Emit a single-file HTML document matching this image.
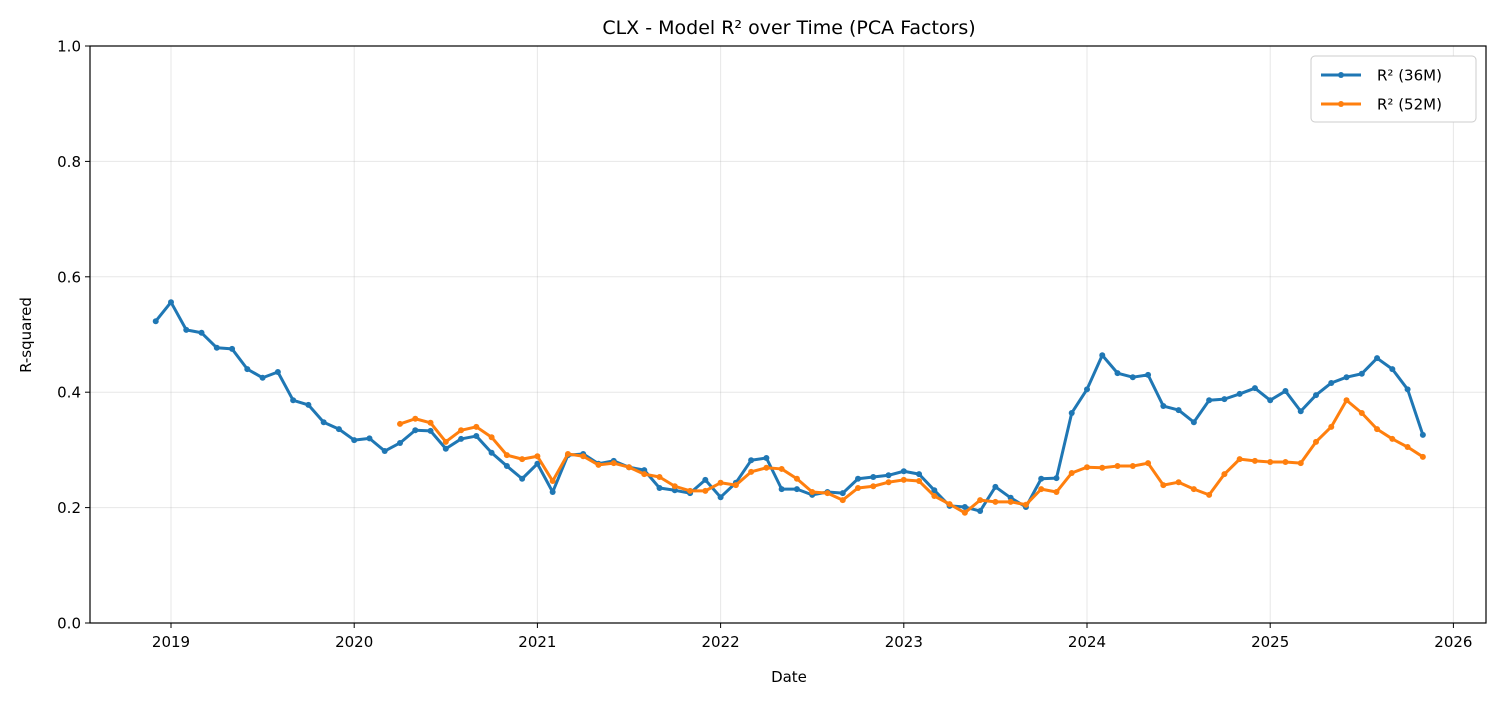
<!DOCTYPE html>
<html><head><meta charset="utf-8"><style>
body{margin:0;background:#fff;font-family:"Liberation Sans",sans-serif;}
svg text{font-family:"DejaVu Sans","Liberation Sans",sans-serif;fill:#000;}
</style></head><body>
<svg id="chart" width="1501" height="701">
</svg>
<script>
const blueStart = [2018, 12];
const blueValues = [0.523,0.556,0.508,0.503,0.477,0.475,0.44,0.425,0.435,0.386,0.378,0.348,0.336,0.317,0.32,0.298,0.312,0.334,0.333,0.302,0.319,0.324,0.295,0.272,0.25,0.276,0.227,0.291,0.293,0.276,0.281,0.27,0.265,0.234,0.23,0.225,0.248,0.218,0.243,0.282,0.286,0.232,0.232,0.222,0.227,0.225,0.25,0.253,0.256,0.263,0.258,0.23,0.203,0.201,0.194,0.236,0.217,0.201,0.25,0.251,0.364,0.405,0.464,0.433,0.426,0.43,0.376,0.369,0.348,0.386,0.388,0.397,0.407,0.386,0.402,0.367,0.395,0.416,0.426,0.432,0.459,0.44,0.405,0.326];
const orangeStart = [2020, 4];
const orangeValues = [0.345,0.354,0.347,0.314,0.334,0.34,0.322,0.291,0.284,0.289,0.246,0.293,0.289,0.274,0.277,0.27,0.258,0.253,0.237,0.229,0.229,0.243,0.239,0.262,0.269,0.267,0.25,0.227,0.225,0.213,0.234,0.237,0.244,0.248,0.246,0.22,0.206,0.191,0.213,0.21,0.21,0.205,0.232,0.227,0.26,0.27,0.269,0.272,0.272,0.277,0.239,0.244,0.232,0.222,0.258,0.284,0.281,0.279,0.279,0.277,0.314,0.34,0.386,0.364,0.336,0.319,0.305,0.288];
const xTicks = [2019,2020,2021,2022,2023,2024,2025,2026];
const yTicks = [0.0,0.2,0.4,0.6,0.8,1.0];

const NS="http://www.w3.org/2000/svg";
const svg=document.getElementById('chart');
const L=90,R=1486,T=46,B=623;
const xs=y=>171+(y-2019)*183.2;
const ys=v=>B-(v)*(B-T);
function mk(tag,attrs,parent){const e=document.createElementNS(NS,tag);for(const k in attrs)e.setAttribute(k,attrs[k]);(parent||svg).appendChild(e);return e;}
xTicks.forEach(t=>{const l=mk('line',{x1:xs(t),x2:xs(t),y1:T,y2:B,stroke:'#b0b0b0','stroke-opacity':0.3,'stroke-width':1});
});
yTicks.forEach(t=>{const l=mk('line',{x1:L,x2:R,y1:ys(t),y2:ys(t),stroke:'#b0b0b0','stroke-opacity':0.3,'stroke-width':1});
});
xTicks.forEach(t=>{mk('line',{x1:xs(t),x2:xs(t),y1:B,y2:B+5,stroke:'#000'});
const tx=mk('text',{x:xs(t),y:B+24,'text-anchor':'middle','font-size':15});tx.textContent=t;
});
yTicks.forEach(t=>{mk('line',{x1:L-5,x2:L,y1:ys(t),y2:ys(t),stroke:'#000'});
const tx=mk('text',{x:L-9,y:ys(t)+5.5,'text-anchor':'end','font-size':15});tx.textContent=t.toFixed(1);
});
function series(start,vals,color,name){
  const pts=vals.map((v,i)=>[xs(start[0]+(start[1]-1+i)/12),ys(v)]);
  const p=mk('polyline',{points:pts.map(p=>p.join(',')).join(' '),fill:'none',stroke:color,'stroke-width':3,'stroke-linejoin':'round'});
  
  pts.forEach(q=>{const c=mk('circle',{cx:q[0],cy:q[1],r:3,fill:color});
  });
}
series(blueStart,blueValues,'#1f77b4','r2-36m');
series(orangeStart,orangeValues,'#ff7f0e','r2-52m');
const fr=mk('rect',{x:L,y:T,width:R-L,height:B-T,fill:'none',stroke:'#000','stroke-width':1.2});

let t=mk('text',{x:789,y:34,'text-anchor':'middle','font-size':19});t.textContent='CLX - Model R² over Time (PCA Factors)';

t=mk('text',{x:789,y:682,'text-anchor':'middle','font-size':15});t.textContent='Date';

t=mk('text',{x:31,y:335,'text-anchor':'middle','font-size':15,transform:'rotate(-90 31 335)'});t.textContent='R-squared';

const lg=mk('g',{});

mk('rect',{x:1311,y:56,width:165,height:66,rx:4,fill:'#fff',stroke:'#ccc'},lg);
[['#1f77b4','R² (36M)',75],['#ff7f0e','R² (52M)',104]].forEach(([c,lab,y])=>{
  const g=mk('g',{},lg);
  
  mk('line',{x1:1321,x2:1361,y1:y,y2:y,stroke:c,'stroke-width':3},g);
  mk('circle',{cx:1341,cy:y,r:3,fill:c},g);
  const tx=mk('text',{x:1377,y:y+5.5,'font-size':15},g);tx.textContent=lab;
});
</script>
</body></html>
